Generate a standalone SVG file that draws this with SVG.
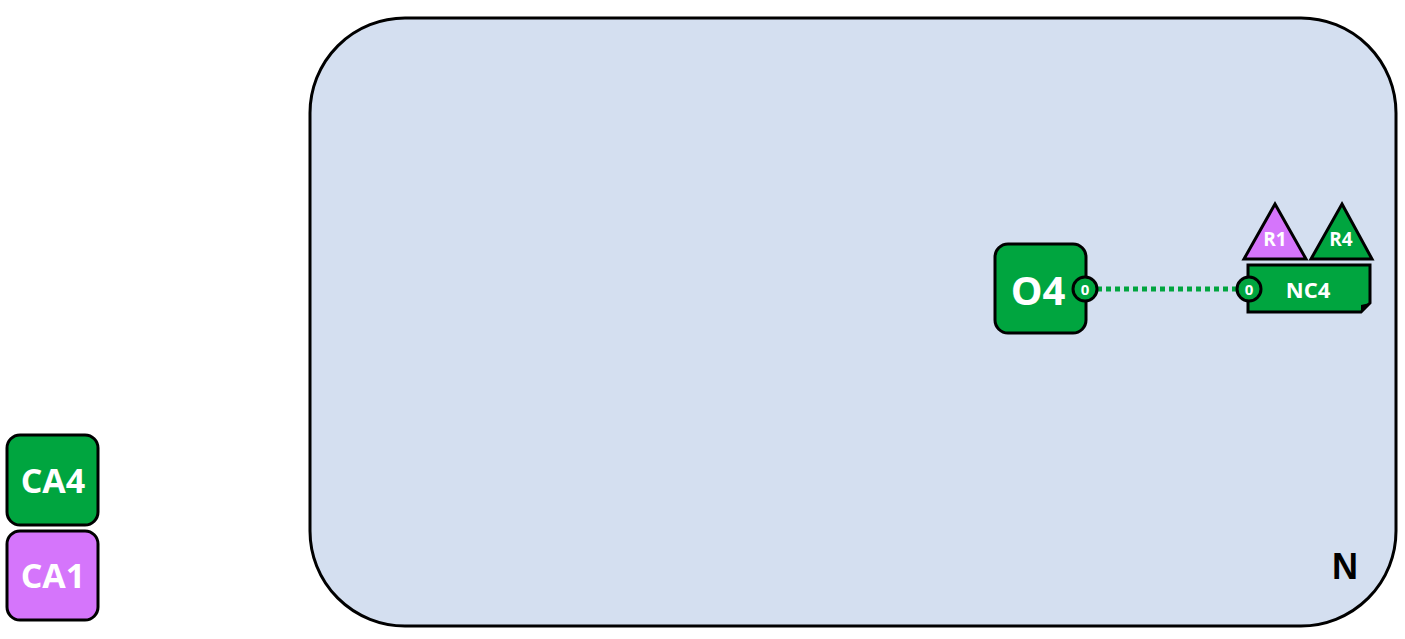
<svg xmlns="http://www.w3.org/2000/svg" width="1405" height="639" viewBox="0 0 1405 639">
<style>
.lbl{font-family:"Open Sans","Liberation Sans",sans-serif;font-weight:bold;fill:#fff;text-anchor:middle;dominant-baseline:central}
.g{fill:#00a53f;stroke:#000;stroke-width:3}
.p{fill:#d575fb;stroke:#000;stroke-width:3}
</style>
<rect width="1405" height="639" fill="#fff"/>
<g id="N">
<rect x="310" y="18" width="1086" height="608" rx="95" ry="95" fill="#d4dff0" stroke="#000" stroke-width="3"/>
<text x="1345" y="566" font-family="'Liberation Sans',Arial,sans-serif" font-weight="bold" font-size="36" text-anchor="middle" dominant-baseline="central" fill="#000">N</text>
</g>
<g id="connectors">
<line x1="1097" y1="289" x2="1237" y2="289" stroke="#00a53f" stroke-width="5" stroke-dasharray="5 4"/>
</g>
<g id="O4">
<rect class="g" x="995" y="244" width="91" height="89" rx="13"/>
<text class="lbl" x="1038" y="289" font-size="40">O4</text>
<circle class="g" cx="1085" cy="289" r="12"/>
<text class="lbl" x="1085" y="289" font-size="15">0</text>
</g>
<g id="NC4">
<path class="g" d="M1248,265 H1370 V303 L1361,312 H1248 Z"/>
<path d="M1361,312 L1370,303 L1361,305 Z" fill="#000"/>
<text class="lbl" x="1308" y="289" font-size="22">NC4</text>
<circle class="g" cx="1249" cy="289" r="12"/>
<text class="lbl" x="1249" y="289" font-size="15">0</text>
</g>
<g id="R1">
<polygon class="p" points="1275,204 1306,259 1244,259" stroke-width="2"/>
<text class="lbl" x="1275" y="239" font-size="19">R1</text>
</g>
<g id="R4">
<polygon class="g" points="1342,204 1372,259 1311,259" stroke-width="2"/>
<text class="lbl" x="1341" y="239" font-size="19">R4</text>
</g>
<g id="CA4">
<rect class="g" x="7" y="435" width="91" height="90" rx="13"/>
<text class="lbl" x="53" y="480" font-size="34">CA4</text>
</g>
<g id="CA1">
<rect class="p" x="7" y="531" width="91" height="89" rx="13"/>
<text class="lbl" x="53" y="575" font-size="34">CA1</text>
</g>
</svg>
